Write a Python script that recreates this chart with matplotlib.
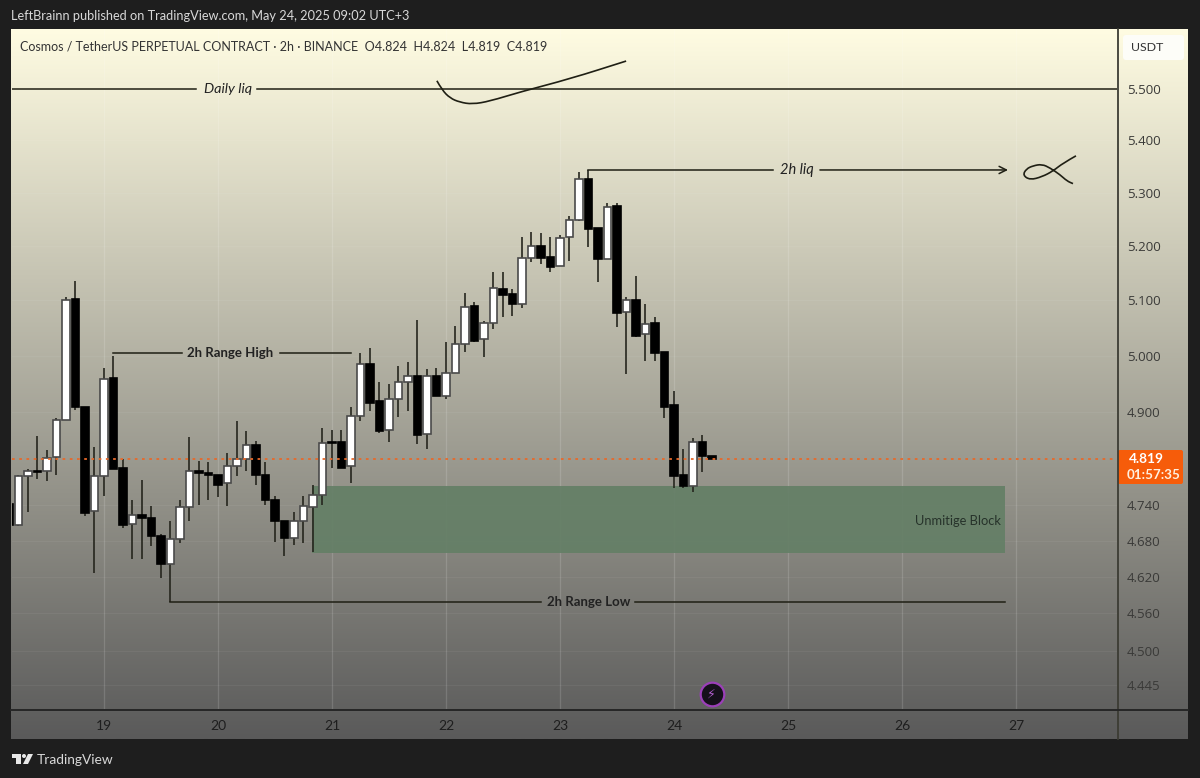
import numpy as np
import matplotlib
matplotlib.use('Agg')
import matplotlib.pyplot as plt
from matplotlib.patches import FancyBboxPatch, Circle, Polygon, PathPatch
from matplotlib.path import Path

plt.rcParams['font.family'] = ['Lato', 'DejaVu Sans']

# 2h candles, first one is cut by the left edge of the pane
opens = [4.742, 4.706, 4.789, 4.798, 4.798, 4.822, 4.886, 5.103, 4.910, 4.730, 4.789, 4.960, 4.803, 4.708, 4.723,
         4.718, 4.688, 4.642, 4.683, 4.736, 4.798, 4.794, 4.791, 4.777, 4.806, 4.818, 4.843, 4.792, 4.748, 4.714,
         4.684, 4.713, 4.736, 4.758, 4.848, 4.848, 4.806, 4.893, 4.986, 4.919, 4.869, 4.923, 4.954, 4.963, 4.862,
         4.963, 4.928, 4.970, 5.020, 5.090, 5.029, 5.059, 5.121, 5.112, 5.094, 5.178, 5.200, 5.180, 5.163, 5.217,
         5.249, 5.326, 5.234, 5.176, 5.275, 5.078, 5.101, 5.038, 5.058, 5.007, 4.912, 4.792, 4.772, 4.848, 4.824]
highs = [4.750, 4.792, 4.801, 4.858, 4.834, 4.890, 5.105, 5.136, 4.910, 4.839, 4.978, 5.000, 4.818, 4.748, 4.782,
         4.738, 4.691, 4.714, 4.748, 4.856, 4.815, 4.813, 4.791, 4.829, 4.884, 4.867, 4.850, 4.813, 4.755, 4.714,
         4.729, 4.755, 4.774, 4.872, 4.869, 4.869, 4.909, 5.004, 5.013, 4.954, 4.949, 4.981, 4.988, 5.065, 4.976,
         4.978, 5.025, 5.054, 5.114, 5.097, 5.063, 5.151, 5.151, 5.121, 5.217, 5.226, 5.224, 5.217, 5.221, 5.255,
         5.339, 5.343, 5.234, 5.280, 5.280, 5.105, 5.145, 5.094, 5.069, 5.007, 4.938, 4.836, 4.855, 4.860, 4.824]
lows = [4.700, 4.704, 4.728, 4.784, 4.781, 4.792, 4.886, 4.903, 4.721, 4.626, 4.755, 4.801, 4.701, 4.649, 4.649,
        4.671, 4.618, 4.578, 4.676, 4.714, 4.741, 4.748, 4.753, 4.738, 4.789, 4.798, 4.775, 4.741, 4.678, 4.654,
        4.673, 4.676, 4.661, 4.741, 4.803, 4.804, 4.777, 4.884, 4.902, 4.863, 4.848, 4.891, 4.902, 4.844, 4.836,
        4.928, 4.923, 4.970, 5.007, 5.025, 4.998, 5.047, 5.069, 5.072, 5.085, 5.170, 5.167, 5.151, 5.163, 5.172,
        5.247, 5.198, 5.134, 5.176, 5.051, 4.967, 5.034, 4.991, 4.991, 4.890, 4.769, 4.769, 4.762, 4.796, 4.819]
closes = [4.706, 4.789, 4.798, 4.797, 4.820, 4.886, 5.101, 4.910, 4.726, 4.789, 4.958, 4.801, 4.706, 4.723, 4.719,
          4.688, 4.642, 4.683, 4.736, 4.799, 4.794, 4.791, 4.775, 4.806, 4.818, 4.843, 4.792, 4.748, 4.713, 4.684,
          4.713, 4.738, 4.758, 4.846, 4.846, 4.804, 4.893, 4.986, 4.917, 4.867, 4.923, 4.954, 4.963, 4.860, 4.963,
          4.928, 4.970, 5.020, 5.088, 5.027, 5.059, 5.123, 5.110, 5.094, 5.178, 5.200, 5.178, 5.161, 5.215, 5.249,
          5.326, 5.232, 5.176, 5.273, 5.076, 5.101, 5.036, 5.056, 5.004, 4.910, 4.789, 4.772, 4.848, 4.824, 4.819]

price_ticks = [5.5, 5.4, 5.3, 5.2, 5.1, 5.0, 4.9, 4.74, 4.68, 4.62, 4.56, 4.5, 4.445]
price_labels = ['5.500', '5.400', '5.300', '5.200', '5.100', '5.000', '4.900',
                '4.740', '4.680', '4.620', '4.560', '4.500', '4.445']
day_ticks = [19, 20, 21, 22, 23, 24, 25, 26, 27]

last_price = 4.819
daily_liq = 5.5
range_high = 5.004
range_low = 4.578
liq_2h = 5.343
block_top, block_bottom = 4.772, 4.660

# hand drawn strokes (day, price)
swoosh_x = [21.92, 21.965, 22.035, 22.12, 22.23, 22.385, 22.65, 23.09, 23.58]
swoosh_y = [5.516, 5.498, 5.482, 5.474, 5.470, 5.476, 5.494, 5.520, 5.555]
fish_x = [27.526, 27.412, 27.325, 27.228, 27.123, 27.06, 27.09, 27.149, 27.228, 27.298, 27.386, 27.447, 27.5]
fish_y = [5.370, 5.356, 5.341, 5.330, 5.324, 5.333, 5.345, 5.351, 5.354, 5.347, 5.334, 5.322, 5.317]

opens, highs, lows, closes = map(np.array, (opens, highs, lows, closes))
days = 19 + (np.arange(len(opens)) - 10) / 12


def stroke(ax, xs, ys):
    # quadratic segments through the midpoints so the pen strokes stay round
    verts = [(xs[0], ys[0])]
    codes = [Path.MOVETO]
    for i in range(1, len(xs) - 1):
        verts += [(xs[i], ys[i]), ((xs[i] + xs[i + 1]) / 2, (ys[i] + ys[i + 1]) / 2)]
        codes += [Path.CURVE3, Path.CURVE3]
    verts.append((xs[-1], ys[-1]))
    codes.append(Path.LINETO)
    ax.add_patch(PathPatch(Path(verts, codes), fc='none', ec='#1f1f14', lw=1.2, zorder=4))


W, H = 1200, 778
fig = plt.figure(figsize=(W / 100, H / 100), dpi=100, facecolor='#1e1e1e')

# pixel canvas for the frame of the screenshot
bg = fig.add_axes([0, 0, 1, 1])
bg.set_axis_off()
top_col = np.array([255, 252, 226]) / 255
bot_col = np.array([90, 90, 90]) / 255
t = np.linspace(0, 1, 400)[:, None, None]
grad = top_col[None, None, :] * (1 - t) + bot_col[None, None, :] * t
bg.imshow(grad, extent=(11, 1188, 739, 29), aspect='auto', interpolation='bilinear')
bg.set_xlim(0, W)
bg.set_ylim(H, 0)
bg.plot([1118, 1118], [29, 739], color='#3c3c34', lw=1.3)
bg.plot([11, 1188], [710, 710], color='#262626', lw=1.4)

bg.add_patch(FancyBboxPatch((1123, 35), 61, 25, boxstyle='round,pad=0,rounding_size=3',
                            fc='#fdfdf8', ec='none'))
bg.text(1147, 47.5, 'USDT', fontsize=8.9, color='#333333', ha='center', va='center')
bg.add_patch(FancyBboxPatch((1118, 450), 65, 34, boxstyle='round,pad=0,rounding_size=2',
                            fc='#f65c0a', ec='none'))
bg.text(1129, 459, '4.819', fontsize=9.8, color='white', fontweight='bold', va='center')
bg.text(1127, 474.5, '01:57:35', fontsize=9.6, color='#fff0e0', fontweight='bold', va='center')

bg.text(11, 16, 'LeftBrainn published on TradingView.com, May 24, 2025 09:02 UTC+3',
        fontsize=9.2, color='#d8d8d8', va='center')
bg.text(20, 46, 'Cosmos / TetherUS PERPETUAL CONTRACT · 2h · BINANCE  O4.824  H4.824  L4.819  C4.819',
        fontsize=9.0, color='#333333', va='center')

# logo
bg.add_patch(Polygon([(12, 754), (21, 754), (21, 764), (16, 764), (16, 758), (12, 758)], fc='#e8e8e8', ec='none'))
bg.add_patch(Circle((24, 756), 2, fc='#e8e8e8', ec='none'))
bg.add_patch(Polygon([(28, 754), (33, 754), (28, 764), (23, 764)], fc='#e8e8e8', ec='none'))
bg.text(37, 759.5, 'TradingView', fontsize=9.9, color='#d8d8d8', va='center')

# price pane, log scale like the TV chart
ax = fig.add_axes([12 / W, 1 - 709 / H, (1117 - 12) / W, (709 - 29) / H], facecolor='none', zorder=2)
ax.set_yscale('log')
ax.set_xlim(18.193, 27.886)
ax.set_ylim(4.407, 5.619)
for sp in ax.spines.values():
    sp.set_visible(False)
ax.yaxis.tick_right()
ax.set_yticks(price_ticks)
ax.set_yticklabels(price_labels, family=['Open Sans'])
ax.minorticks_off()
ax.set_xticks(day_ticks)
ax.set_xticklabels([str(d) for d in day_ticks])
ax.tick_params(axis='y', length=0, pad=7, labelsize=9.5, labelcolor='#3a3a38')
ax.tick_params(axis='x', length=0, pad=8, labelsize=10, labelcolor='#1e1e1e')
ax.grid(True, axis='y', color='#ffffff', alpha=0.05, lw=0.8)
ax.grid(True, axis='x', color='#ffffff', alpha=0.14, lw=0.9)
ax.set_axisbelow(True)

# unmitigated block
ax.fill_between([20.825, 26.905], block_bottom, block_top, color='#647f66', alpha=0.92, lw=0, zorder=1)
ax.text(26.87, 4.714, 'Unmitige Block', fontsize=9.3, color='#26322a', ha='right', va='center', zorder=6)

# candles
up = closes >= opens
ax.vlines(days, lows, highs, color='#26261e', lw=1.2, zorder=2)
body_w = 7.2 / 114
bottoms = np.minimum(opens, closes)
heights = np.abs(closes - opens)
ax.bar(days[up], heights[up], bottom=bottoms[up], width=body_w, color='white', edgecolor='#4a4a4a', lw=1.2, zorder=3)
ax.bar(days[~up], heights[~up], bottom=bottoms[~up], width=body_w, color='black', edgecolor='black', lw=1.2, zorder=3)

ax.axhline(last_price, color='#e8692a', lw=1.3, ls=(0, (1.5, 2.5)), zorder=5)

# drawings
line_kw = dict(color='#1f1f14', lw=1.1, zorder=4)
ax.plot([18.193, 19.81], [daily_liq, daily_liq], **line_kw)
ax.plot([20.34, 27.886], [daily_liq, daily_liq], **line_kw)
ax.text(20.09, daily_liq, 'Daily liq', fontsize=10.4, style='italic', color='#222222', ha='center', va='center')

ax.plot([19.08, 19.68], [range_high, range_high], **line_kw)
ax.plot([20.545, 21.17], [range_high, range_high], **line_kw)
ax.text(20.11, range_high, '2h Range High', fontsize=9.5, fontweight='bold', color='#222222', ha='center', va='center')

ax.plot([19.58, 22.83], [range_low, range_low], **line_kw)
ax.plot([23.66, 26.905], [range_low, range_low], **line_kw)
ax.text(23.25, range_low, '2h Range Low', fontsize=9.5, fontweight='bold', color='#222222', ha='center', va='center')

ax.plot([23.25, 24.87], [liq_2h, liq_2h], **line_kw)
ax.text(25.08, liq_2h, '2h liq', fontsize=10.5, style='italic', color='#222222', ha='center', va='center')
ax.annotate('', xy=(26.93, liq_2h), xytext=(25.28, liq_2h),
            arrowprops=dict(arrowstyle='->', color='#1f1f14', lw=1.1, shrinkA=0, shrinkB=0, mutation_scale=13))

stroke(ax, swoosh_x, swoosh_y)
stroke(ax, fish_x, fish_y)

# event marker under the last candle
ax.plot([24.33], [4.430], marker='o', ms=17, mfc='#15101a', mec='#9b3fb8', mew=1.6, zorder=6)
ax.text(24.33, 4.430, '⚡', fontsize=9, color='#b45fd0', ha='center', va='center', zorder=7,
        family=['DejaVu Sans'])

fig.savefig('out.png', dpi=100, facecolor=fig.get_facecolor())
